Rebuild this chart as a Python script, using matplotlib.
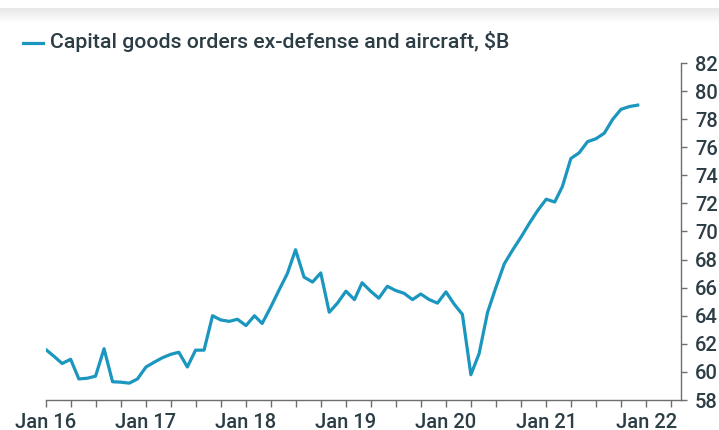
import numpy as np
import pandas as pd
import matplotlib
matplotlib.use("Agg")
import matplotlib.pyplot as plt
import matplotlib.dates as mdates

# monthly core capital goods orders, $B (Jan 2016 - Dec 2021)
orders_2016 = [61.6, 61.1, 60.6, 60.9, 59.5, 59.55, 59.7, 61.65, 59.3, 59.27, 59.2, 59.5]
orders_2017 = [60.35, 60.7, 61.0, 61.25, 61.4, 60.35, 61.55, 61.55, 64.0, 63.7, 63.6, 63.75]
orders_2018 = [63.3, 64.0, 63.45, 64.6, 65.8, 67.0, 68.7, 66.75, 66.4, 67.05, 64.25, 64.9]
orders_2019 = [65.75, 65.15, 66.35, 65.75, 65.25, 66.1, 65.8, 65.6, 65.15, 65.55, 65.15, 64.9]
orders_2020 = [65.7, 64.8, 64.1, 59.8, 61.3, 64.25, 66.0, 67.7, 68.7, 69.6, 70.6, 71.5]
orders_2021 = [72.3, 72.1, 73.2, 75.2, 75.6, 76.4, 76.6, 77.0, 78.0, 78.7, 78.9, 79.0]

orders = orders_2016 + orders_2017 + orders_2018 + orders_2019 + orders_2020 + orders_2021
months = pd.date_range("2016-01-01", periods=len(orders), freq="MS")

label = "Capital goods orders ex-defense and aircraft, $B"
y_ticks = list(range(58, 83, 2))

line_color = "#1a96bf"
text_color = "#2c3d45"
axis_color = "#6e6e6e"

plt.rcParams["font.family"] = ["Roboto", "DejaVu Sans"]
plt.rcParams["font.weight"] = "medium"

fig = plt.figure(figsize=(7.19, 4.30), dpi=100)

# faint grey strip along the top edge
band = fig.add_axes([0, 1 - 23 / 430, 1, 15 / 430])
grad = np.linspace(0.905, 1.0, 50).reshape(-1, 1)
band.imshow(np.repeat(grad, 2, axis=1), cmap="gray", vmin=0, vmax=1,
            aspect="auto", extent=[0, 1, 0, 1])
band.axis("off")

ax = fig.add_axes([45.7 / 719, 1 - 400 / 430, (681 - 45.7) / 719, (400 - 63) / 430])
ax.plot(months, orders, color=line_color, lw=2.3, solid_joinstyle="round")

ax.set_ylim(58, 82)
ax.set_xlim(pd.Timestamp("2016-01-01"), pd.Timestamp("2022-05-08"))

ax.yaxis.tick_right()
ax.set_yticks(y_ticks)
ax.tick_params(axis="y", direction="out", length=4, width=1, color=axis_color,
               labelcolor=text_color, labelsize=14.5, pad=6)

ax.xaxis.set_major_locator(mdates.YearLocator())
ax.xaxis.set_major_formatter(mdates.DateFormatter("Jan %y"))
ax.xaxis.set_minor_locator(mdates.MonthLocator(bymonth=[4, 7, 10]))
ax.tick_params(axis="x", which="both", direction="out", length=5, width=1,
               color=axis_color, labelcolor=text_color, labelsize=14.5, pad=4)

for side in ["left", "top"]:
    ax.spines[side].set_visible(False)
for side in ["right", "bottom"]:
    ax.spines[side].set_color(axis_color)
    ax.spines[side].set_linewidth(1)

# legend key drawn by hand at the top left
fig.add_artist(plt.Line2D([23 / 719, 43 / 719], [1 - 43 / 430, 1 - 43 / 430],
                          color=line_color, lw=2.3))
fig.text(50 / 719, 1 - 42 / 430, label, color=text_color, fontsize=15.3,
         va="center", ha="left")

fig.savefig("out.png", dpi=100)
